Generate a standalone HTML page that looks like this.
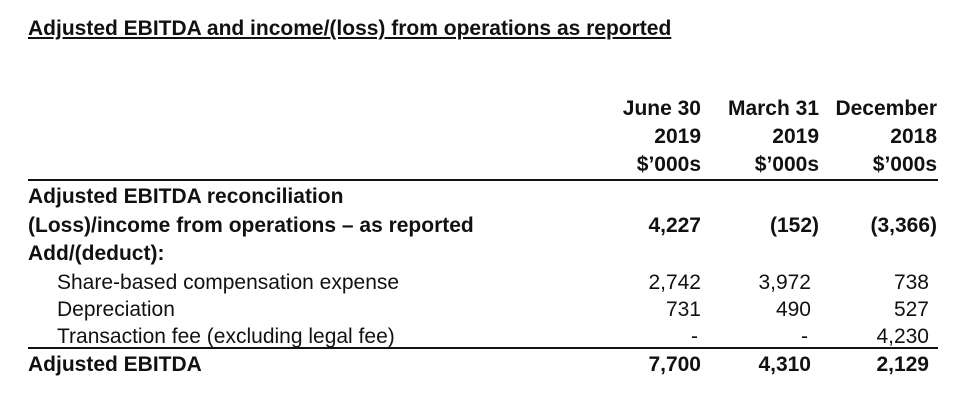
<!DOCTYPE html>
<html><head><meta charset="utf-8"><style>
body{margin:0;width:980px;height:400px;background:#fff;font-family:"Liberation Sans",Arial,sans-serif;color:#111;position:relative;overflow:hidden}
.t{position:absolute;font-size:21px;line-height:22px;white-space:nowrap}
.b{font-weight:bold}
.r{text-align:right}
.h{line-height:28px}
.line{position:absolute;left:28px;width:910px;height:2px;background:#111}
</style></head><body>
<div class="t b" style="left:28px;top:18px;text-decoration:underline">Adjusted EBITDA and income/(loss) from operations as reported</div>

<div class="t b r h" style="right:279px;top:95px">June 30<br>2019<br>$’000s</div>
<div class="t b r h" style="right:161px;top:95px">March 31<br>2019<br>$’000s</div>
<div class="t b r h" style="right:43px;top:95px">December<br>2018<br>$’000s</div>
<div class="line" style="top:179px"></div>

<div class="t b" style="left:28px;top:186px">Adjusted EBITDA reconciliation</div>

<div class="t b" style="left:28px;top:215px">(Loss)/income from operations – as reported</div>
<div class="t b r" style="right:279px;top:215px">4,227</div>
<div class="t b r" style="right:161px;top:215px">(152)</div>
<div class="t b r" style="right:43px;top:215px">(3,366)</div>

<div class="t b" style="left:28px;top:243px">Add/(deduct):</div>

<div class="t" style="left:57px;top:272px">Share-based compensation expense</div>
<div class="t r" style="right:279px;top:272px">2,742</div>
<div class="t r" style="right:169px;top:272px">3,972</div>
<div class="t r" style="right:51px;top:272px">738</div>

<div class="t" style="left:57px;top:299px">Depreciation</div>
<div class="t r" style="right:279px;top:299px">731</div>
<div class="t r" style="right:169px;top:299px">490</div>
<div class="t r" style="right:51px;top:299px">527</div>

<div class="t" style="left:57px;top:326px">Transaction fee (excluding legal fee)</div>
<div class="t r" style="right:282px;top:326px">-</div>
<div class="t r" style="right:172px;top:326px">-</div>
<div class="t r" style="right:51px;top:326px">4,230</div>

<div class="line" style="top:347px"></div>

<div class="t b" style="left:28px;top:354px">Adjusted EBITDA</div>
<div class="t b r" style="right:279px;top:354px">7,700</div>
<div class="t b r" style="right:169px;top:354px">4,310</div>
<div class="t b r" style="right:51px;top:354px">2,129</div>
</body></html>
